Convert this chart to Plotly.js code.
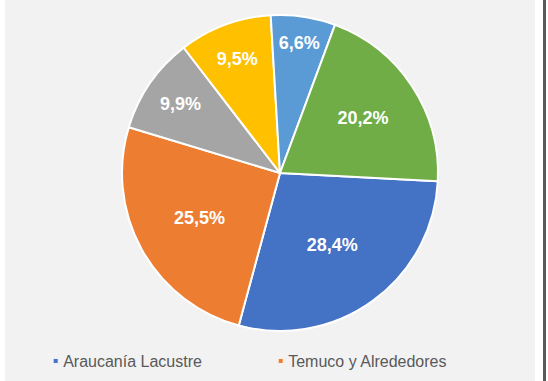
<!DOCTYPE html>
<html>
<head>
<meta charset="utf-8">
<script src="https://cdn.plot.ly/plotly-3.0.1.min.js"></script>
<style>
  html, body { margin: 0; padding: 0; background: #ffffff; overflow: hidden; width: 548px; height: 381px; }
  #chart { position: absolute; left: 5px; top: 0px; width: 530px; height: 500px; }
  #edge { position: absolute; left: 543px; top: 0px; width: 3px; height: 381px; background: #5a5a5a; }
</style>
</head>
<body>
<div id="chart"></div>
<div id="edge"></div>
<script>
// Data (order as in the legend; drawn clockwise)
const labels = ['Araucanía Lacustre', 'Temuco y Alrededores', 'Araucanía Andina', 'Nahuelbuta', 'Araucanía Costera', 'Malleco'];
const values = [28.4, 25.5, 9.9, 9.5, 6.6, 20.2];
const sliceText = ['28,4%', '25,5%', '9,9%', '9,5%', '6,6%', '20,2%'];
const colors = ['#4472C4', '#ED7D31', '#A5A5A5', '#FFC000', '#5B9BD5', '#70AD47'];

const trace = {
  type: 'pie',
  labels: labels,
  values: values,
  text: sliceText,
  textinfo: 'text',
  textposition: 'inside',
  insidetextorientation: 'horizontal',
  textfont: { family: 'Liberation Sans, Arial, sans-serif', size: 18, color: '#ffffff', weight: 'bold' },
  sort: false,
  direction: 'clockwise',
  rotation: 93,
  marker: { colors: colors, line: { color: '#ffffff', width: 2 } },
  domain: { x: [0.2208, 0.8170], y: [0.338, 0.970] },
  hoverinfo: 'none'
};

const layout = {
  width: 530,
  height: 500,
  margin: { l: 0, r: 0, t: 0, b: 0 },
  paper_bgcolor: '#F2F2F2',
  plot_bgcolor: '#F2F2F2',
  showlegend: true,
  legend: {
    orientation: 'h',
    entrywidth: 180,
    entrywidthmode: 'pixels',
    x: 0.0343,
    xanchor: 'left',
    y: 0.312,
    yanchor: 'top',
    font: { family: 'Liberation Sans, Arial, sans-serif', size: 16, color: '#595959' },
    bgcolor: 'rgba(0,0,0,0)',
    itemclick: false
  }
};

Plotly.newPlot('chart', [trace], layout, { staticPlot: true, displayModeBar: false }).then(function (gd) {
  gd.querySelectorAll('.legendpoints path').forEach(function (p) {
    p.setAttribute('transform', 'translate(32.5,0) scale(0.42)');
  });
  // The reference image is cropped just below the first legend row:
  // later rows fall outside the visible frame.
  gd.querySelectorAll('.legend .traces').forEach(function (t, i) {
    if (i >= 2) t.style.visibility = 'hidden';
  });
});
</script>
</body>
</html>
